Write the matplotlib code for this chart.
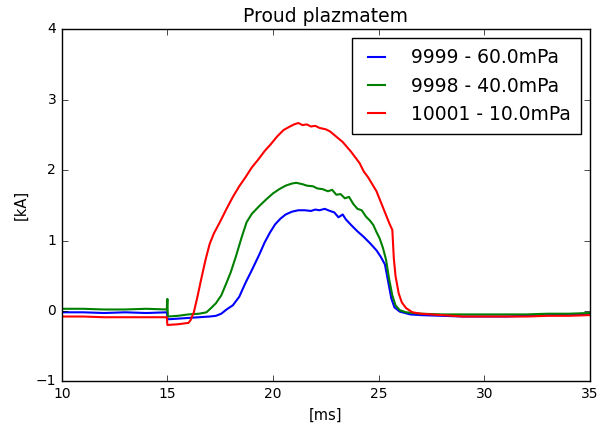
import matplotlib
matplotlib.use('Agg')
import matplotlib.pyplot as plt

# Proud plazmatem, three shots
t_9999 = [10.0, 11.0, 12.0, 13.0, 14.0, 14.98, 15.0, 15.5, 16.0, 16.5, 17.0, 17.3,
          17.55, 17.8, 18.1, 18.4, 18.7, 19.0, 19.35, 19.6, 19.85, 20.1, 20.35, 20.6,
          20.9, 21.2, 21.5, 21.8, 22.0, 22.2, 22.45, 22.7, 22.9, 23.1, 23.3, 23.45,
          23.7, 24.0, 24.3, 24.6, 24.9, 25.1, 25.3, 25.45, 25.6, 25.75, 26.0, 26.5,
          27.0, 28.0, 29.0, 30.0, 31.0, 32.0, 33.0, 34.0, 35.0]
i_9999 = [-0.02, -0.02, -0.03, -0.02, -0.03, -0.02, -0.12, -0.11, -0.10, -0.09, -0.08, -0.07,
          -0.04, 0.02, 0.08, 0.20, 0.40, 0.58, 0.80, 0.97, 1.11, 1.23, 1.31, 1.37,
          1.41, 1.43, 1.43, 1.42, 1.44, 1.43, 1.45, 1.42, 1.40, 1.33, 1.37, 1.30,
          1.22, 1.13, 1.05, 0.96, 0.86, 0.77, 0.66, 0.42, 0.18, 0.05, -0.01, -0.05,
          -0.06, -0.07, -0.08, -0.08, -0.08, -0.07, -0.06, -0.05, -0.04]

t_9998 = [10.0, 11.0, 12.0, 13.0, 14.0, 14.97, 15.0, 15.02, 15.5, 16.0, 16.5, 16.85,
          17.1, 17.3, 17.55, 17.8, 18.0, 18.25, 18.5, 18.75, 19.0, 19.35, 19.7, 20.0,
          20.3, 20.6, 20.9, 21.1, 21.4, 21.6, 21.9, 22.1, 22.35, 22.6, 22.8, 23.0,
          23.2, 23.4, 23.6, 23.8, 24.0, 24.2, 24.4, 24.6, 24.75, 24.9, 25.05, 25.2,
          25.35, 25.5, 25.65, 25.8, 26.0, 26.3, 27.0, 28.0, 29.0, 30.0, 31.0, 32.0,
          33.0, 34.0, 35.0]
i_9998 = [0.03, 0.03, 0.02, 0.02, 0.03, 0.02, 0.17, -0.08, -0.07, -0.05, -0.04, -0.02,
          0.05, 0.11, 0.22, 0.40, 0.55, 0.78, 1.03, 1.26, 1.38, 1.49, 1.59, 1.67,
          1.73, 1.78, 1.81, 1.82, 1.80, 1.78, 1.77, 1.74, 1.73, 1.70, 1.72, 1.65,
          1.66, 1.60, 1.62, 1.52, 1.45, 1.43, 1.34, 1.28, 1.22, 1.12, 1.03, 0.90,
          0.73, 0.45, 0.22, 0.08, 0.01, -0.02, -0.04, -0.05, -0.05, -0.05, -0.05, -0.05,
          -0.04, -0.04, -0.03]

t_10001 = [10.0, 11.0, 12.0, 13.0, 14.0, 14.97, 15.0, 15.5, 16.0, 16.1, 16.25, 16.4,
           16.6, 16.8, 17.0, 17.2, 17.5, 17.8, 18.1, 18.4, 18.7, 19.0, 19.3, 19.6,
           19.9, 20.2, 20.5, 20.8, 21.0, 21.2, 21.4, 21.6, 21.8, 22.0, 22.2, 22.5,
           22.7, 22.9, 23.1, 23.3, 23.5, 23.7, 23.9, 24.1, 24.3, 24.5, 24.7, 24.9,
           25.1, 25.3, 25.5, 25.65, 25.72, 25.8, 25.95, 26.1, 26.3, 26.6, 27.0, 28.0,
           29.0, 30.0, 31.0, 32.0, 33.0, 34.0, 35.0]
i_10001 = [-0.08, -0.08, -0.09, -0.09, -0.09, -0.09, -0.20, -0.19, -0.17, -0.13, -0.02, 0.17,
           0.45, 0.72, 0.95, 1.10, 1.27, 1.45, 1.62, 1.77, 1.90, 2.04, 2.15, 2.27,
           2.37, 2.48, 2.57, 2.62, 2.65, 2.67, 2.64, 2.65, 2.62, 2.63, 2.60, 2.58,
           2.55, 2.50, 2.45, 2.40, 2.33, 2.26, 2.18, 2.10, 1.98, 1.90, 1.80, 1.70,
           1.55, 1.40, 1.25, 1.15, 0.75, 0.50, 0.25, 0.12, 0.04, -0.02, -0.04, -0.06,
           -0.08, -0.08, -0.08, -0.08, -0.07, -0.07, -0.06]

labels = ['9999 - 60.0mPa', '9998 - 40.0mPa', '10001 - 10.0mPa']

#%% plot
plt.style.use('classic')
plt.rcParams['font.size'] = 10

fig, ax = plt.subplots(figsize=(6, 4.26), dpi=100)
fig.patch.set_facecolor('white')

ax.plot(t_9999, i_9999, color='b', lw=1.5, label=labels[0])
ax.plot(t_9998, i_9998, color='g', lw=1.5, label=labels[1])
ax.plot(t_10001, i_10001, color='r', lw=1.5, label=labels[2])

ax.set_xlim(10, 35)
ax.set_ylim(-1, 4)
ax.tick_params(labelsize=10)
ax.set_xlabel('[ms]', fontsize=10.5)
ax.set_ylabel('[kA]', fontsize=10.5)
ax.set_title('Proud plazmatem', fontsize=13.5)

ax.legend(loc='upper right', fontsize=13.5, handlelength=1.5,
          handletextpad=1.1, borderpad=0.55, borderaxespad=0.45,
          labelspacing=0.5)

fig.subplots_adjust(left=0.103, right=0.983, bottom=0.105, top=0.931)
fig.savefig('out.png', dpi=100, facecolor='white')
